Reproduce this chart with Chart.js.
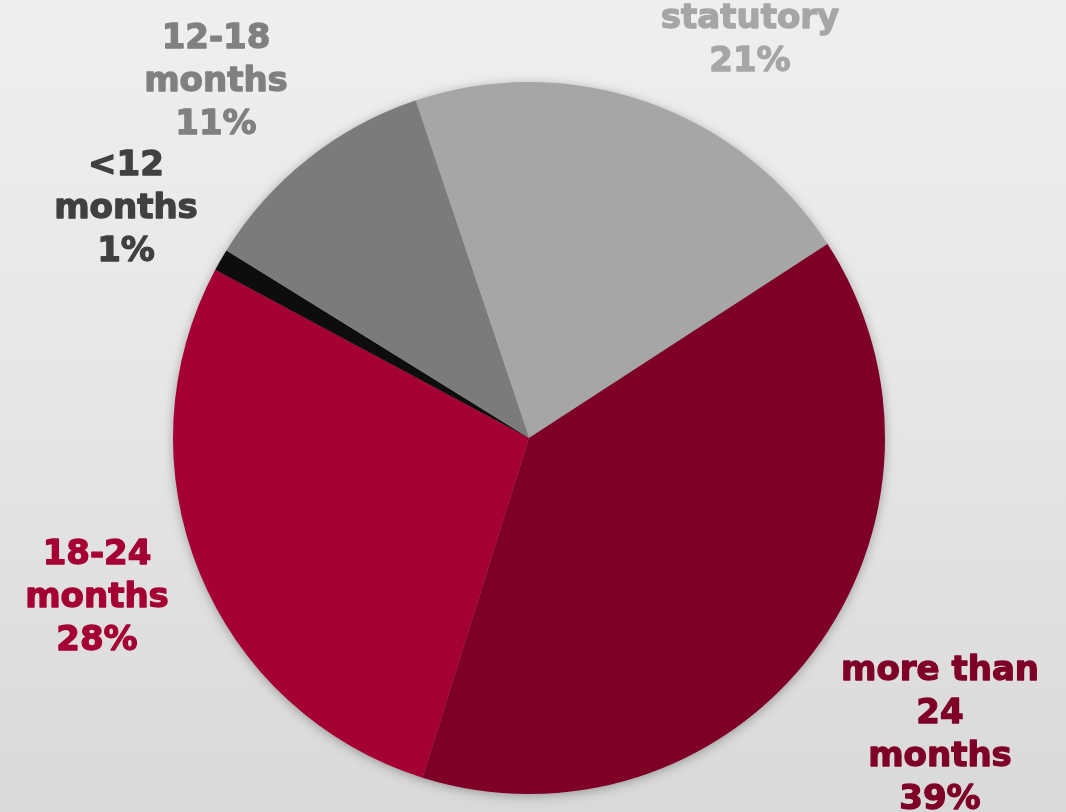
<!DOCTYPE html>
<html>
<head>
<meta charset="utf-8">
<script src="https://cdn.jsdelivr.net/npm/chart.js@4"></script>
<style>
  html, body { margin: 0; padding: 0; }
  body {
    width: 1066px; height: 812px; overflow: hidden;
    background: linear-gradient(180deg, #efefef 0%, #e6e6e6 50%, #d9d9d9 100%);
  }
  #pie { display: block; }
</style>
</head>
<body>
<canvas id="pie" width="1066" height="812"></canvas>
<script>
// Notice period categories, clockwise from the top
const categories = ["statutory", "more than 24 months", "18-24 months", "<12 months", "12-18 months"];
const shares     = [21, 39, 28, 1, 11];
const labelLines = [
  ["statutory", "21%"],
  ["more than", "24", "months", "39%"],
  ["18-24", "months", "28%"],
  ["<12", "months", "1%"],
  ["12-18", "months", "11%"],
];

const sliceColors = ["#a6a6a6", "#7f0027", "#a50034", "#0d0d0d", "#7b7b79"];
const textColors  = ["#a6a6a6", "#7f0027", "#a50034", "#404040", "#808080"];

// label anchor (center x, first line middle y) relative to the pie center
const labelOffsets = [
  [221, -419],
  [411, 233],
  [-432, 117],
  [-403, -272],
  [-313, -399],
];

const LINE_H = 43;
const FONT = "bold 34px 'DejaVu Sans', Verdana, sans-serif";

// soft shadow under the whole pie
const pieShadow = {
  id: "pieShadow",
  beforeDatasetsDraw(chart) {
    const arc = chart.getDatasetMeta(0).data[0];
    if (!arc) return;
    const { x, y, outerRadius } = arc.getProps(["x", "y", "outerRadius"], true);
    const ctx = chart.ctx;
    ctx.save();
    ctx.shadowColor = "rgba(0,0,0,0.35)";
    ctx.shadowBlur = 12;
    ctx.shadowOffsetY = 2;
    ctx.fillStyle = "#888";
    ctx.beginPath();
    ctx.arc(x, y, outerRadius - 1, 0, Math.PI * 2);
    ctx.fill();
    ctx.restore();
  },
};

const sliceLabels = {
  id: "sliceLabels",
  afterDatasetsDraw(chart) {
    const arc = chart.getDatasetMeta(0).data[0];
    if (!arc) return;
    const { x, y } = arc.getProps(["x", "y"], true);
    const ctx = chart.ctx;
    ctx.save();
    ctx.font = FONT;
    ctx.textAlign = "center";
    ctx.textBaseline = "middle";
    ctx.lineWidth = 1.3;
    ctx.lineJoin = "round";
    labelLines.forEach((lines, i) => {
      ctx.fillStyle = textColors[i];
      ctx.strokeStyle = textColors[i];
      const [dx, dy] = labelOffsets[i];
      lines.forEach((t, j) => {
        // a thin stroke makes the bold face a bit heavier
        ctx.strokeText(t, x + dx, y + dy + j * LINE_H);
        ctx.fillText(t, x + dx, y + dy + j * LINE_H);
      });
    });
    ctx.restore();
  },
};

new Chart(document.getElementById("pie"), {
  type: "pie",
  data: {
    labels: categories,
    datasets: [{
      data: shares,
      backgroundColor: sliceColors,
      borderWidth: 0,
    }],
  },
  options: {
    responsive: false,
    animation: false,
    rotation: -18.6,
    layout: { padding: { left: 173, right: 181, top: 82, bottom: 18 } },
    plugins: {
      legend: { display: false },
      tooltip: { enabled: false },
    },
  },
  plugins: [pieShadow, sliceLabels],
});
</script>
</body>
</html>
